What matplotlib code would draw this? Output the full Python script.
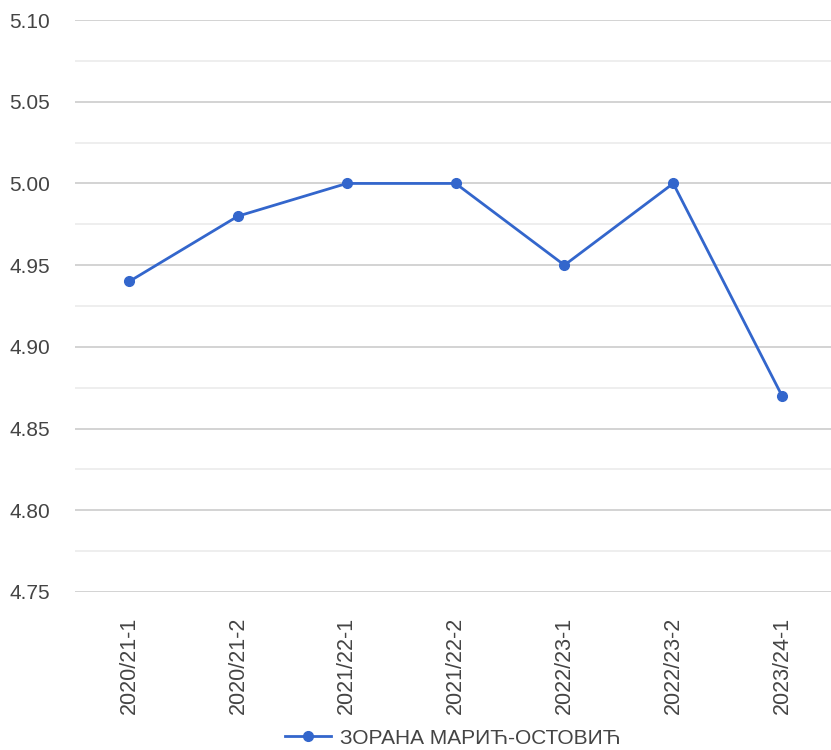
import matplotlib as mpl
mpl.use('Agg')
from matplotlib import pyplot as plt
from matplotlib.ticker import MultipleLocator

# %%
semesters = ['2020/21-1', '2020/21-2', '2021/22-1', '2021/22-2',
             '2022/23-1', '2022/23-2', '2023/24-1']
grades = [4.94, 4.98, 5.00, 5.00, 4.95, 5.00, 4.87]
seriesName = 'ЗОРАНА МАРИЋ-ОСТОВИЋ'

lineColor = '#3366cc'
textColor = '#444444'

plt.rcParams['font.family'] = ['Liberation Sans', 'DejaVu Sans']

# %%
fig = plt.figure(figsize=(8.31, 7.5), dpi=100)
ax = fig.add_axes([0.09, 0.2107, 0.91, 0.7626])

x = list(range(len(semesters)))
ax.plot(x, grades, color=lineColor, linewidth=2, marker='o', markersize=7,
        label=seriesName, zorder=3)

ax.set_ylim(4.75, 5.10)
ax.set_xlim(-0.5, 6.45)
ax.yaxis.set_major_locator(MultipleLocator(0.05))
ax.yaxis.set_minor_locator(MultipleLocator(0.025))
ax.yaxis.set_major_formatter(mpl.ticker.FormatStrFormatter('%.2f'))
ax.grid(axis='y', which='major', color='#cccccc', linewidth=1.2)
ax.grid(axis='y', which='minor', color='#ebebeb', linewidth=1.2)
ax.set_axisbelow(True)

ax.set_xticks(x)
ax.set_xticklabels(semesters, rotation=90)
ax.tick_params(axis='both', which='both', length=0, labelsize=15, labelcolor=textColor)
ax.tick_params(axis='x', labelsize=15.5)
ax.tick_params(axis='y', pad=18)
ax.tick_params(axis='x', pad=18)
for s in ax.spines.values():
    s.set_visible(False)

fig.legend(loc='lower center', bbox_to_anchor=(0.545, -0.022), frameon=False,
           fontsize=15, labelcolor=textColor, handlelength=2.2, handletextpad=0.4)

plt.savefig('out.png', dpi=100)
